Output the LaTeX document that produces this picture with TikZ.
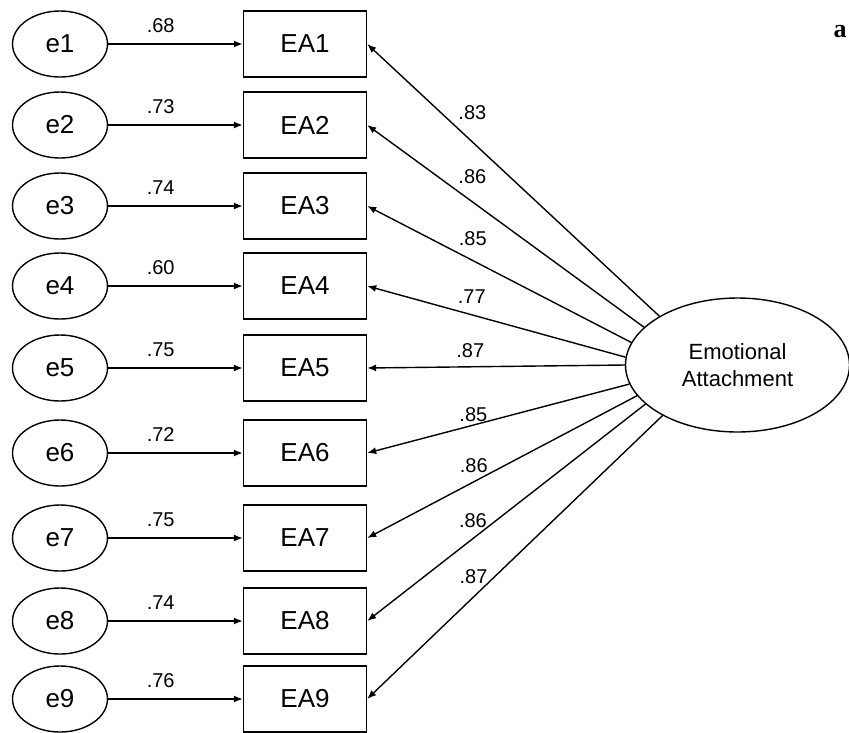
\documentclass[tikz,border=0pt]{standalone}
\usepackage{fontspec}
\setmainfont{Liberation Sans}
\newfontfamily\tagfont{Liberation Serif}
\usetikzlibrary{positioning, arrows.meta, shapes.geometric}

\begin{document}
\begin{tikzpicture}[x = 1pt, y = -1pt, node distance = 245pt, on grid, line width = 1.4pt,
    >={Latex[length=9pt, width=7pt]},
    err/.style = {ellipse, draw, minimum width = 95pt, minimum height = 66pt, inner sep = 0pt,
      font = \fontsize{26}{30}\selectfont},
    item/.style = {rectangle, draw, minimum width = 123pt, minimum height = 66pt, inner sep = 0pt,
      font = \fontsize{26}{30}\selectfont},
    latent/.style = {ellipse, draw, minimum width = 224pt, minimum height = 134pt, inner sep = 0pt,
      align = center, font = \fontsize{22}{27}\selectfont},
    coef/.style = {font = \fontsize{20}{24}\selectfont, inner sep = 3pt}]
  \useasboundingbox (0,0) rectangle (849,732);
  \node[err] (e1) at (60,44) {e1};
  \node[err] (e2) at (60,125) {e2};
  \node[err] (e3) at (60,206) {e3};
  \node[err] (e4) at (60,286) {e4};
  \node[err] (e5) at (60,368) {e5};
  \node[err] (e6) at (60,453) {e6};
  \node[err] (e7) at (60,538) {e7};
  \node[err] (e8) at (60,621) {e8};
  \node[err] (e9) at (60,699) {e9};
  \node[item] (EA1) [right =of e1] {EA1};
  \node[item] (EA2) [right =of e2] {EA2};
  \node[item] (EA3) [right =of e3] {EA3};
  \node[item] (EA4) [right =of e4] {EA4};
  \node[item] (EA5) [right =of e5] {EA5};
  \node[item] (EA6) [right =of e6] {EA6};
  \node[item] (EA7) [right =of e7] {EA7};
  \node[item] (EA8) [right =of e8] {EA8};
  \node[item] (EA9) [right =of e9] {EA9};
  \node[latent] (EAT) at (737.5,365) {Emotional\\Attachment};
  \node[font = \tagfont\bfseries\fontsize{26}{30}\selectfont, inner sep = 0pt] (tag) at (840,32) {a};
  \path[->]
    (e1) edge node[coef, pos = 0.39, above = 8pt] {.68} (EA1)
    (e2) edge node[coef, pos = 0.39, above = 8pt] {.73} (EA2)
    (e3) edge node[coef, pos = 0.39, above = 8pt] {.74} (EA3)
    (e4) edge node[coef, pos = 0.39, above = 8pt] {.60} (EA4)
    (e5) edge node[coef, pos = 0.39, above = 8pt] {.75} (EA5)
    (e6) edge node[coef, pos = 0.39, above = 8pt] {.72} (EA6)
    (e7) edge node[coef, pos = 0.39, above = 8pt] {.75} (EA7)
    (e8) edge node[coef, pos = 0.39, above = 8pt] {.74} (EA8)
    (e9) edge node[coef, pos = 0.39, above = 8pt] {.76} (EA9);
  \path[->]
    (EAT.148) edge node[coef, pos = 0.64, above = 19pt] {.83} (EA1.east)
    (EAT.158) edge node[coef, pos = 0.62, above = 14pt] {.86} (EA2.east)
    (EAT.168) edge node[coef, pos = 0.60, above = 11pt] {.85} (EA3.east)
    (EAT.176) edge node[coef, pos = 0.595, above = 8pt] {.77} (EA4.east)
    (EAT.west) edge node[coef, pos = 0.60, above = 5pt] {.87} (EA5.east)
    (EAT.190) edge node[coef, pos = 0.595, above = 0pt] {.85} (EA6.east)
    (EAT.197) edge node[coef, pos = 0.605, above = 5pt] {.86} (EA7.east)
    (EAT.203) edge node[coef, pos = 0.62, above = 7pt] {.86} (EA8.east)
    (EAT.214) edge node[coef, pos = 0.64, above = 10pt] {.87} (EA9.east);
\end{tikzpicture}
\end{document}
